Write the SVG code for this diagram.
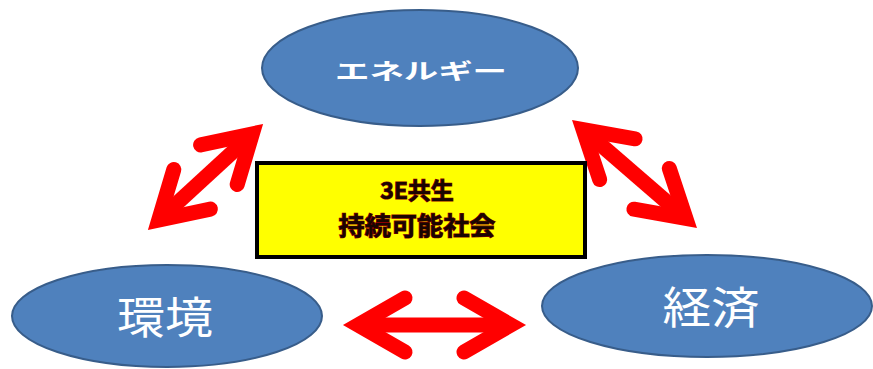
<svg xmlns="http://www.w3.org/2000/svg" width="873" height="369" viewBox="0 0 873 369">
<style>
.node ellipse{fill:#4f81bd;stroke:#385d8a;stroke-width:2}
.ntext{fill:#ffffff;font-family:"Noto Sans CJK JP","Noto Sans CJK SC",sans-serif;text-anchor:middle}
.arrow{fill:none;stroke:#ff0000;stroke-width:15;stroke-linecap:round;stroke-linejoin:miter;stroke-miterlimit:10}
.shaft{fill:none;stroke:#ff0000;stroke-width:15;stroke-linecap:butt}
.btext{fill:#1a0500;stroke:#8b0000;stroke-width:1.2;paint-order:stroke;font-family:"Noto Sans CJK JP","Noto Sans CJK SC",sans-serif;font-weight:bold;text-anchor:middle}
</style>
<rect width="873" height="369" fill="#ffffff"/>
<g id="connectors">
  <g id="arrow-left">
    <line class="shaft" x1="252.3" y1="133.9" x2="158.7" y2="220.1"/>
    <polyline class="arrow" points="237.2,184.5 252.3,133.9 200.6,144.9"/>
    <polyline class="arrow" points="210.4,209.1 158.7,220.1 173.8,169.5"/>
  </g>
  <g id="arrow-right">
    <line class="shaft" x1="583.1" y1="129.5" x2="685.9" y2="218.5"/>
    <polyline class="arrow" points="599.7,179.6 583.1,129.5 635.1,138.8"/>
    <polyline class="arrow" points="633.9,209.2 685.9,218.5 669.3,168.4"/>
  </g>
  <g id="arrow-bottom">
    <line class="shaft" x1="358" y1="325" x2="511" y2="325"/>
    <polyline class="arrow" points="405,298 358,325 405,352"/>
    <polyline class="arrow" points="464,298 511,325 464,352"/>
  </g>
</g>
<g id="energy" class="node">
  <ellipse cx="420" cy="68" rx="158" ry="58"/>
  <text class="ntext" x="421" y="79" font-size="22" font-weight="bold" textLength="172" lengthAdjust="spacingAndGlyphs">エネルギー</text>
</g>
<g id="environment" class="node">
  <ellipse cx="167" cy="316" rx="155" ry="51"/>
  <text class="ntext" x="165" y="334" font-size="44" textLength="96" lengthAdjust="spacingAndGlyphs">環境</text>
</g>
<g id="economy" class="node">
  <ellipse cx="707" cy="306" rx="165" ry="51"/>
  <text class="ntext" x="711" y="324" font-size="44" textLength="97" lengthAdjust="spacingAndGlyphs">経済</text>
</g>
<g id="center">
  <rect x="257" y="163" width="328" height="94" fill="#ffff00" stroke="#000000" stroke-width="4"/>
  <text class="btext" x="417" y="199" font-size="23">3E共生</text>
  <text class="btext" x="417" y="235" font-size="25" textLength="157" lengthAdjust="spacingAndGlyphs">持続可能社会</text>
</g>
</svg>
